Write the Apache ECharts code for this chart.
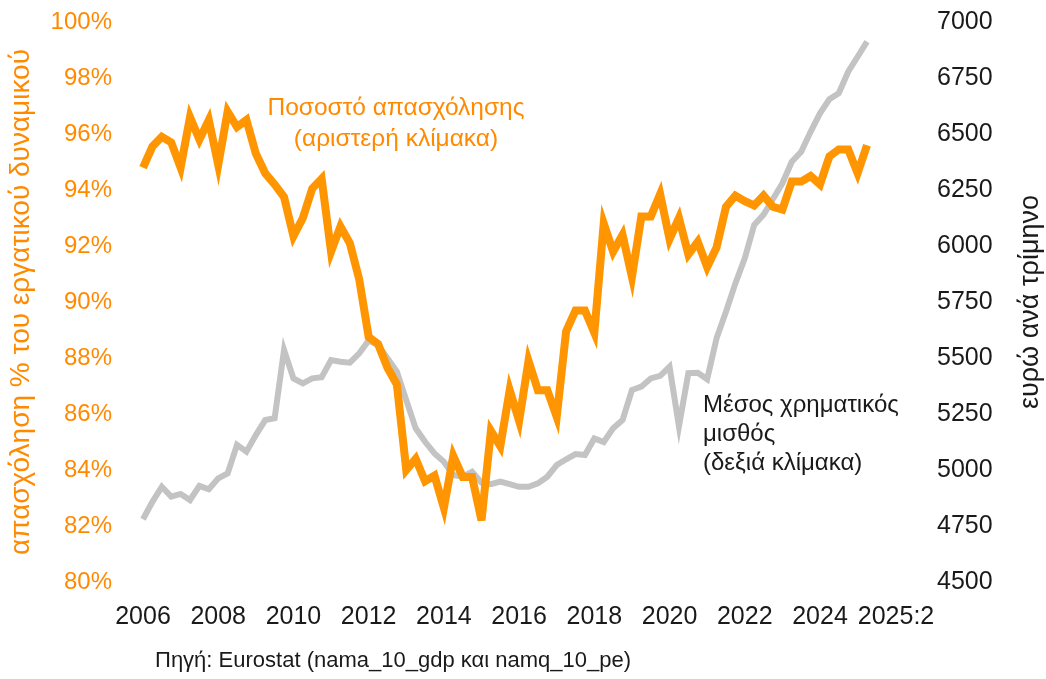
<!DOCTYPE html>
<html>
<head>
<meta charset="utf-8">
<script src="https://cdn.jsdelivr.net/npm/echarts@6/dist/echarts.min.js"></script>
<style>
  html, body { margin: 0; padding: 0; background: #fff; }
  #chart { width: 1046px; height: 679px; }
</style>
</head>
<body>
<div id="chart"></div>
<script>
// τριμηνιαία δεδομένα 2006:1 - 2025:2
const quarters = [];
for (let y = 2006; y <= 2025; y++) {
  for (let q = 1; q <= 4; q++) {
    if (y === 2025 && q > 2) break;
    quarters.push(y + ":" + q);
  }
}

// ποσοστό απασχόλησης (% του εργατικού δυναμικού)
const employment = [
  94.8, 95.55, 95.9, 95.7, 94.8, 96.6, 95.8, 96.5,
  94.9, 96.8, 96.25, 96.5, 95.3, 94.6, 94.2, 93.75,
  92.35, 93.0, 94.05, 94.4, 91.8, 92.7, 92.1, 90.8,
  88.75, 88.5, 87.65, 87.05, 84.0, 84.4, 83.6, 83.8,
  82.65, 84.5, 83.75, 83.75, 82.2, 85.4, 84.85, 86.85,
  85.75, 87.9, 86.85, 86.85, 85.9, 88.95, 89.7, 89.7,
  88.9, 92.8, 91.8, 92.4, 90.9, 93.05, 93.05, 93.85,
  92.25, 93.0, 91.7, 92.15, 91.25, 91.95, 93.4, 93.8,
  93.6, 93.45, 93.8, 93.4, 93.3, 94.3, 94.3, 94.5,
  94.2, 95.2, 95.45, 95.45, 94.6, 95.6
];

// μέσος χρηματικός μισθός (ευρώ ανά τρίμηνο)
const wage = [
  4780, 4858, 4925, 4881, 4893, 4866, 4929, 4914,
  4963, 4985, 5112, 5082, 5156, 5223, 5231, 5536,
  5409, 5387, 5409, 5414, 5491, 5483, 5479, 5521,
  5578, 5558, 5499, 5439, 5312, 5186, 5126, 5074,
  5037, 4978, 4970, 4992, 4943, 4937, 4948, 4937,
  4925, 4925, 4940, 4970, 5022, 5048, 5071, 5067,
  5141, 5125, 5186, 5223, 5357, 5372, 5409, 5420,
  5461, 5195, 5432, 5434, 5405, 5588, 5707, 5833,
  5945, 6094, 6140, 6210, 6280, 6376, 6421, 6510,
  6592, 6655, 6682, 6778, 6845, 6912
];

const ORANGE = "#FF9500";
const ORANGE_TXT = "#FF8A00";
const GREY = "#C3C3C3";
const FONT = "Liberation Sans, Arial, sans-serif";

const chart = echarts.init(document.getElementById("chart"));

const option = {
  animation: false,
  textStyle: { fontFamily: FONT },
  grid: {
    left: 143, right: 179, top: 22, bottom: 97,
    containLabel: false,
    outerBoundsMode: "none"
  },
  xAxis: {
    type: "category",
    data: quarters,
    boundaryGap: false,
    axisLine: { show: false },
    axisTick: { show: false },
    splitLine: { show: false },
    axisLabel: {
      margin: 23,
      fontSize: 25,
      color: "#1a1a1a",
      interval: (i) => i % 8 === 0 || i === quarters.length - 1,
      formatter: (v, i) => {
        if (i === quarters.length - 1) return "{last|" + v + "}";
        return v.split(":")[0];
      },
      rich: {
        last: { fontSize: 25, color: "#1a1a1a", padding: [0, 0, 0, 58] }
      }
    }
  },
  yAxis: [
    {
      type: "value",
      min: 80,
      max: 100,
      interval: 2,
      position: "left",
      axisLine: { show: false },
      axisTick: { show: false },
      splitLine: { show: false },
      axisLabel: {
        margin: 31,
        fontSize: 24,
        color: ORANGE_TXT,
        formatter: "{value}%"
      },
      name: "απασχόληση % του εργατικού δυναμικού",
      nameLocation: "middle",
      nameRotate: 90,
      nameGap: 108,
      nameTextStyle: { fontSize: 28, color: ORANGE_TXT }
    },
    {
      type: "value",
      min: 4500,
      max: 7000,
      interval: 250,
      position: "right",
      axisLine: { show: false },
      axisTick: { show: false },
      splitLine: { show: false },
      axisLabel: {
        margin: 70,
        fontSize: 25,
        color: "#1a1a1a",
        formatter: (v) => String(v)
      },
      name: "ευρώ ανά τρίμηνο",
      nameLocation: "middle",
      nameRotate: 90,
      nameGap: 150,
      nameTextStyle: { fontSize: 27, color: "#1a1a1a" }
    }
  ],
  series: [
    {
      name: "Μέσος χρηματικός μισθός",
      type: "line",
      yAxisIndex: 1,
      data: wage,
      symbol: "none",
      lineStyle: { color: GREY, width: 6, join: "miter" },
      z: 2
    },
    {
      name: "Ποσοστό απασχόλησης",
      type: "line",
      yAxisIndex: 0,
      data: employment,
      symbol: "none",
      lineStyle: { color: ORANGE, width: 8, join: "miter", miterLimit: 6 },
      z: 3
    }
  ],
  graphic: [
    {
      type: "text",
      x: 396,
      y: 93,
      style: {
        text: "Ποσοστό απασχόλησης\n(αριστερή κλίμακα)",
        fontSize: 24.5,
        lineHeight: 31,
        fill: ORANGE_TXT,
        align: "center",
        fontFamily: FONT
      }
    },
    {
      type: "text",
      x: 703,
      y: 391,
      style: {
        text: "Μέσος χρηματικός\nμισθός\n(δεξιά κλίμακα)",
        fontSize: 24,
        lineHeight: 29,
        fill: "#1a1a1a",
        align: "left",
        fontFamily: FONT
      }
    },
    {
      type: "text",
      x: 155,
      y: 650,
      style: {
        text: "Πηγή: Eurostat (nama_10_gdp και namq_10_pe)",
        fontSize: 22,
        fill: "#1a1a1a",
        fontFamily: FONT
      }
    }
  ]
};

chart.setOption(option);
</script>
</body>
</html>
